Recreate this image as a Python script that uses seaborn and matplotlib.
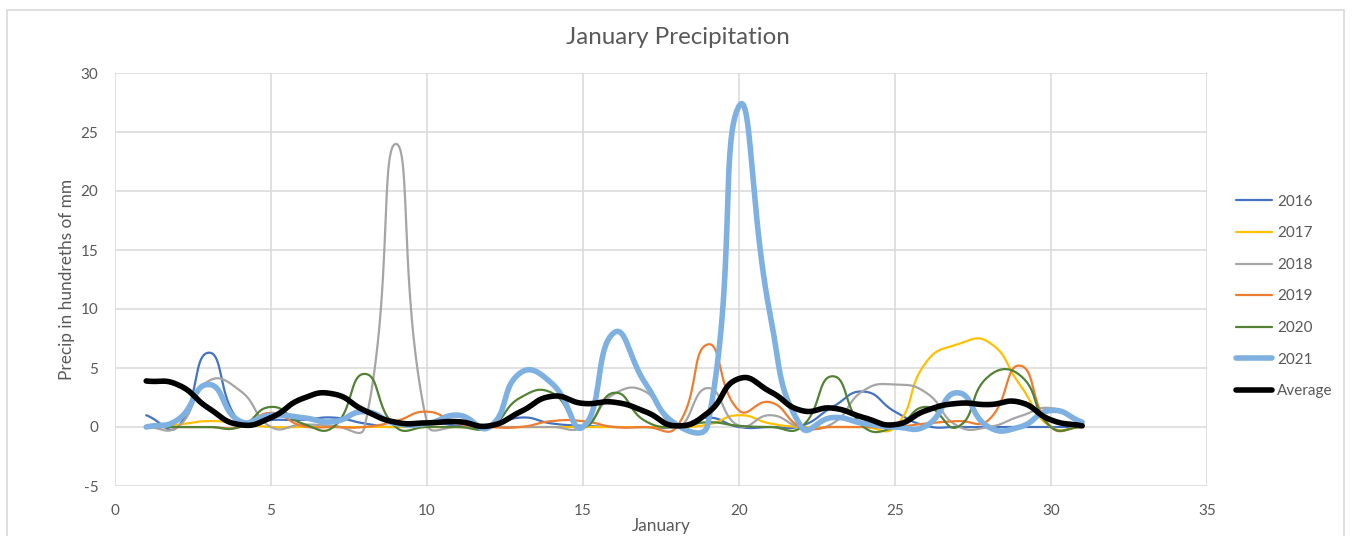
import numpy as np
import pandas as pd
import matplotlib
matplotlib.use("Agg")
import matplotlib.pyplot as plt
from matplotlib.patches import Rectangle
import seaborn as sns

# January daily precipitation (hundredths of mm), one value per day
days = list(range(1, 32))
p2016 = [1.0, 0.0, 6.3, 0.4, 0.6, 0.6, 0.8, 0.3, 0.0, 0.4, 0.1, 0.0, 0.8, 0.3, 0.1, 0.0,
         0.0, 0.0, 0.8, 0.0, 0.0, 0.1, 1.7, 3.0, 1.3, 0.1, 0.0, 0.0, 0.0, 0.0, 0.0]
p2017 = [0.0, 0.2, 0.5, 0.3, 0.0, 0.0, 0.0, 0.0, 0.0, 0.0, 0.0, 0.0, 0.0, 0.0, 0.0, 0.0,
         0.0, 0.0, 0.2, 1.0, 0.3, 0.0, 0.0, 0.0, 0.0, 5.5, 7.0, 7.2, 3.6, 0.0, 0.0]
p2018 = [0.0, 0.0, 3.9, 3.1, 0.0, 0.2, 0.1, 0.0, 24.0, 0.3, 0.0, 0.0, 0.0, 0.0, 0.0, 2.8,
         3.0, 0.0, 3.3, 0.1, 1.0, 0.0, 0.3, 3.1, 3.6, 2.9, 0.1, 0.0, 0.9, 1.6, 0.3]
p2019 = [0.0, 0.0, 0.0, 0.0, 1.2, 0.1, 0.0, 0.0, 0.5, 1.3, 0.3, 0.0, 0.0, 0.5, 0.5, 0.0,
         0.0, 0.0, 7.0, 1.4, 2.1, 0.0, 0.0, 0.0, 0.0, 0.3, 0.5, 0.6, 5.2, 0.0, 0.0]
p2020 = [0.0, 0.0, 0.0, 0.0, 1.7, 0.3, 0.0, 4.5, 0.0, 0.0, 0.0, 0.0, 2.5, 2.9, 0.0, 2.9,
         0.5, 0.0, 0.4, 0.1, 0.0, 0.0, 4.3, 0.0, 0.0, 1.7, 0.0, 4.3, 4.4, 0.0, 0.0]
p2021 = [0.0, 0.6, 3.6, 0.5, 1.0, 0.8, 0.45, 1.3, 0.3, 0.3, 1.0, 0.0, 4.6, 3.7, 0.0, 8.0,
         3.7, 0.2, 0.2, 27.2, 9.5, 0.0, 0.8, 0.3, 0.0, 0.1, 2.9, 0.0, 0.0, 1.4, 0.4]
average = [3.9, 3.6, 1.6, 0.2, 0.8, 2.4, 2.8, 1.4, 0.4, 0.35, 0.45, 0.1, 1.3, 2.6, 2.0, 2.1,
           1.3, 0.1, 1.2, 4.1, 3.0, 1.4, 1.6, 0.8, 0.2, 1.4, 2.0, 1.9, 2.1, 0.6, 0.1]

series_names = ["2016", "2017", "2018", "2019", "2020", "2021", "Average"]
series_values = [p2016, p2017, p2018, p2019, p2020, p2021, average]
colors = ["#4472C4", "#FFC000", "#A5A5A5", "#ED7D31", "#548235", "#7EB1E1", "#000000"]
widths = [1.6, 1.6, 1.6, 1.6, 1.6, 4.0, 4.0]

# approximate screen scale (px per data unit) used for chord lengths of the smoothing
PX_X, PX_Y = 31.2, 11.8
TENSION = 0.5


def smooth_curve(x, y, n=24):
    """Bezier smoothing through every data point (spreadsheet-style smoothed line)."""
    x = np.asarray(x, float)
    y = np.asarray(y, float)
    m = len(x)
    P = np.column_stack([x, y])
    S = np.column_stack([x * PX_X, y * PX_Y])
    c_in = P.copy()
    c_out = P.copy()
    for i in range(m):
        a = max(i - 1, 0)
        b = min(i + 1, m - 1)
        d0 = np.linalg.norm(S[i] - S[a])
        d1 = np.linalg.norm(S[b] - S[i])
        tot = d0 + d1
        if tot == 0:
            continue
        vec = P[b] - P[a]
        c_in[i] = P[i] - TENSION * d0 / tot * vec
        c_out[i] = P[i] + TENSION * d1 / tot * vec
    t = np.linspace(0, 1, n)[:, None]
    pieces = []
    for i in range(m - 1):
        p0, p1, p2, p3 = P[i], c_out[i], c_in[i + 1], P[i + 1]
        seg = ((1 - t) ** 3) * p0 + 3 * ((1 - t) ** 2) * t * p1 + 3 * (1 - t) * t ** 2 * p2 + t ** 3 * p3
        pieces.append(seg if i == 0 else seg[1:])
    out = np.vstack(pieces)
    return out[:, 0], out[:, 1]


sns.set_theme(style="white")
plt.rcParams["font.family"] = ["Lato", "DejaVu Sans"]
plt.rcParams["axes.unicode_minus"] = False
text_color = "#595959"

fig = plt.figure(figsize=(13.56, 5.36), dpi=100)
ax = fig.add_axes([115 / 1356, 1 - 486 / 536, (1207 - 115) / 1356, (486 - 73) / 536])

for name, vals, col, lw in zip(series_names, series_values, colors, widths):
    sx, sy = smooth_curve(days, vals)
    frame = pd.DataFrame({"day": sx, "value": sy})
    sns.lineplot(data=frame, x="day", y="value", sort=False, estimator=None,
                 color=col, linewidth=lw, label=name, ax=ax,
                 solid_capstyle="round", solid_joinstyle="round")

ax.set_xlim(0, 35)
ax.set_ylim(-5, 30)
ax.set_xticks(range(0, 36, 5))
ax.set_yticks(range(-5, 31, 5))
ax.grid(True, color="#D9D9D9", linewidth=1.1)
ax.set_axisbelow(True)
for sp in ax.spines.values():
    sp.set_visible(False)
ax.tick_params(axis="both", length=0, labelsize=11, labelcolor=text_color)
ax.tick_params(axis="x", pad=13)
ax.tick_params(axis="y", pad=12)

ax.set_xlabel("January", fontsize=12.4, color=text_color, labelpad=0)
ax.set_ylabel("Precip in hundreths of mm", fontsize=12.4, color=text_color, labelpad=4)
fig.text(0.5, 1 - 37 / 536, "January Precipitation", ha="center", va="center",
         fontsize=17.4, color=text_color)

leg = ax.legend(loc="center left", bbox_to_anchor=(1222 / 1356, 1 - 296.5 / 536),
                bbox_transform=fig.transFigure, frameon=False, fontsize=11,
                handlelength=2.4, handletextpad=0.3, labelspacing=1.15)
for txt in leg.get_texts():
    txt.set_color(text_color)

# outer chart border
fig.patches.append(Rectangle((7 / 1356, -0.02), (1344 - 7) / 1356, 1.02 - 10 / 536,
                             transform=fig.transFigure, fill=False,
                             edgecolor="#D9D9D9", linewidth=1.2))

fig.savefig("out.png", dpi=100)
